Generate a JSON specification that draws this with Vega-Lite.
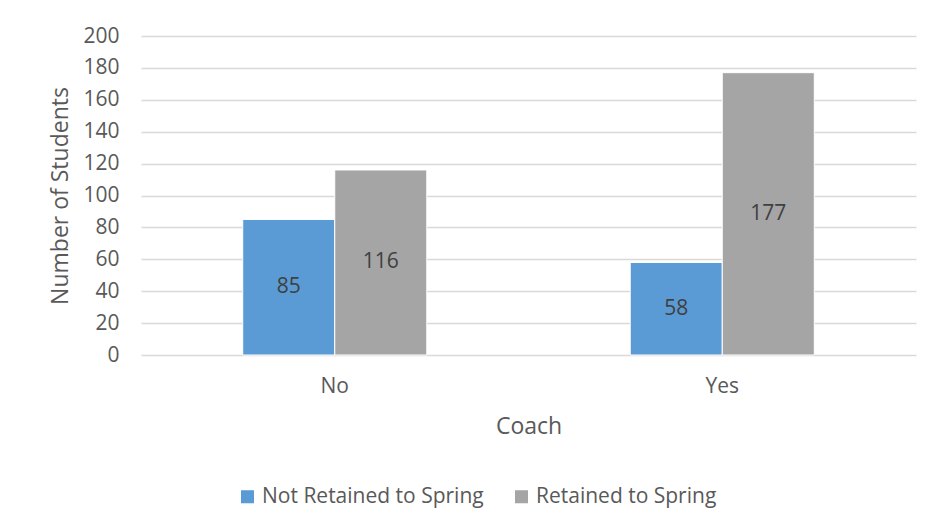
{
  "$schema": "https://vega.github.io/schema/vega-lite/v6.json",
  "autosize": {"type": "none"},
  "padding": {"left": 141, "top": 36, "right": 15, "bottom": 176},
  "width": 775,
  "height": 319,
  "background": "white",
  "config": {
    "font": "Open Sans",
    "view": {"stroke": null},
    "axisY": {
      "labelOverlap": false,
      "domain": false, "ticks": false, "gridColor": "#D9D9D9", "gridWidth": 1.3,
      "labelFontSize": 21, "labelColor": "#595959", "labelPadding": 22,
      "titleFontSize": 23, "titleFontWeight": "normal", "titleColor": "#595959", "titlePadding": 10
    }
  },
  "data": {
    "values": [
      {"coach": "No", "status": "Not Retained to Spring", "students": 85},
      {"coach": "No", "status": "Retained to Spring", "students": 116},
      {"coach": "Yes", "status": "Not Retained to Spring", "students": 58},
      {"coach": "Yes", "status": "Retained to Spring", "students": 177}
    ]
  },
  "encoding": {
    "x": {
      "field": "coach", "type": "nominal",
      "scale": {"paddingInner": 0.525, "paddingOuter": 0.2625},
      "axis": {
        "title": "Coach", "labelAngle": 0, "domain": false, "ticks": false,
        "labelFontSize": 21, "labelColor": "#595959", "labelPadding": 20,
        "titleFontSize": 23, "titleFontWeight": "normal", "titleColor": "#595959", "titlePadding": 19
      }
    },
    "xOffset": {"field": "status", "type": "nominal", "scale": {"paddingInner": 0, "paddingOuter": 0}}
  },
  "layer": [
    {
      "mark": {"type": "bar", "stroke": "white", "strokeWidth": 1},
      "encoding": {
        "y": {
          "field": "students", "type": "quantitative",
          "scale": {"domain": [0, 200]},
          "axis": {"title": "Number of Students", "values": [0,20,40,60,80,100,120,140,160,180,200], "labelOverlap": false}
        },
        "color": {
          "field": "status", "type": "nominal",
          "scale": {"domain": ["Not Retained to Spring", "Retained to Spring"], "range": ["#5B9BD5", "#A5A5A5"]},
          "legend": {
            "title": null, "orient": "none", "direction": "horizontal",
            "legendX": 96, "legendY": 450,
            "symbolType": "square", "symbolSize": 170, "symbolStrokeWidth": 0,
            "labelFontSize": 21, "labelColor": "#595959", "labelLimit": 400,
            "columnPadding": 27, "labelOffset": 4
          }
        }
      }
    },
    {
      "mark": {"type": "text", "fontSize": 21, "color": "#404040"},
      "encoding": {
        "y": {
          "field": "mid", "type": "quantitative",
          "axis": {"title": "Number of Students", "values": [0,20,40,60,80,100,120,140,160,180,200], "labelOverlap": false}
        },
        "text": {"field": "students", "type": "quantitative"}
      },
      "transform": [{"calculate": "datum.students / 2", "as": "mid"}]
    }
  ]
}
